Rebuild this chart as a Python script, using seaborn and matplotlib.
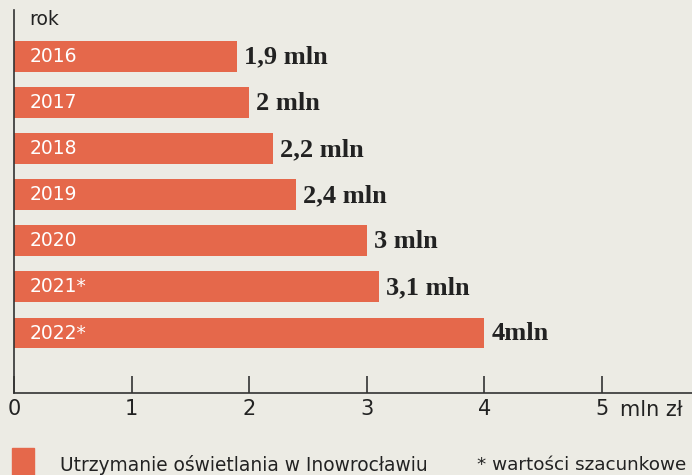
import matplotlib
matplotlib.use('Agg')
import matplotlib.pyplot as plt
import seaborn as sns
import pandas as pd

years = ['2016', '2017', '2018', '2019', '2020', '2021*', '2022*']
values = [1.9, 2.0, 2.2, 2.4, 3.0, 3.1, 4.0]
value_labels = ['1,9 mln', '2 mln', '2,2 mln', '2,4 mln', '3 mln', '3,1 mln', '4mln']
x_ticks = [0, 1, 2, 3, 4, 5]

bg = '#ecebe4'
bar_color = '#e5684b'
text_color = '#222222'

df = pd.DataFrame({'rok': years, 'value': values})

sns.set_theme(style='white')
plt.rcParams['font.family'] = ['DejaVu Sans']

fig = plt.figure(figsize=(6.92, 4.75), dpi=100, facecolor=bg)
ax = fig.add_axes([14 / 692, 1 - 393 / 475, 1 - 14 / 692, 383 / 475])
ax.set_facecolor(bg)

sns.barplot(data=df, x='value', y='rok', orient='h', color=bar_color,
            saturation=1, width=0.67, linewidth=0, ax=ax)

ax.set_xlim(0, (692 - 14) / 117.6)
ax.set_ylim(len(years) - 1 + 1.3, -1.0)

for i, (yr, v, lab) in enumerate(zip(years, values, value_labels)):
    ax.text(0.13, i, yr, color='white', fontsize=13.5, va='center', ha='left')
    ax.text(v + 0.06, i + 0.02, lab, color=text_color, fontsize=19,
            fontweight='bold', family='Liberation Serif', va='center', ha='left')

ax.text(0.13, -0.8, 'rok', color=text_color, fontsize=13.5, va='center', ha='left')

for side in ['top', 'right']:
    ax.spines[side].set_visible(False)
for side in ['left', 'bottom']:
    ax.spines[side].set_color('#333333')
    ax.spines[side].set_linewidth(1.2)

ax.set_yticks([])
ax.set_xticks(x_ticks)
ax.set_xticklabels([str(t) for t in x_ticks])
ax.tick_params(axis='x', direction='in', length=12, width=1.2, color='#333333',
               labelsize=15, labelcolor=text_color, pad=4, bottom=True)
ax.set_xlabel('')
ax.set_ylabel('')

fig.text(620 / 692, 1 - 410 / 475, 'mln zł', fontsize=15, color=text_color,
         va='center', ha='left')

# legend
fig.patches.append(plt.Rectangle((12 / 692, 0), 22 / 692, 27 / 475,
                                 transform=fig.transFigure, color=bar_color))
fig.text(60 / 692, 1 - 465 / 475, 'Utrzymanie oświetlania w Inowrocławiu',
         fontsize=13.4, color=text_color, va='center', ha='left')
fig.text(477 / 692, 1 - 465 / 475, '* wartości szacunkowe',
         fontsize=13.2, color=text_color, va='center', ha='left')

fig.savefig('out.png', dpi=100, facecolor=bg)
